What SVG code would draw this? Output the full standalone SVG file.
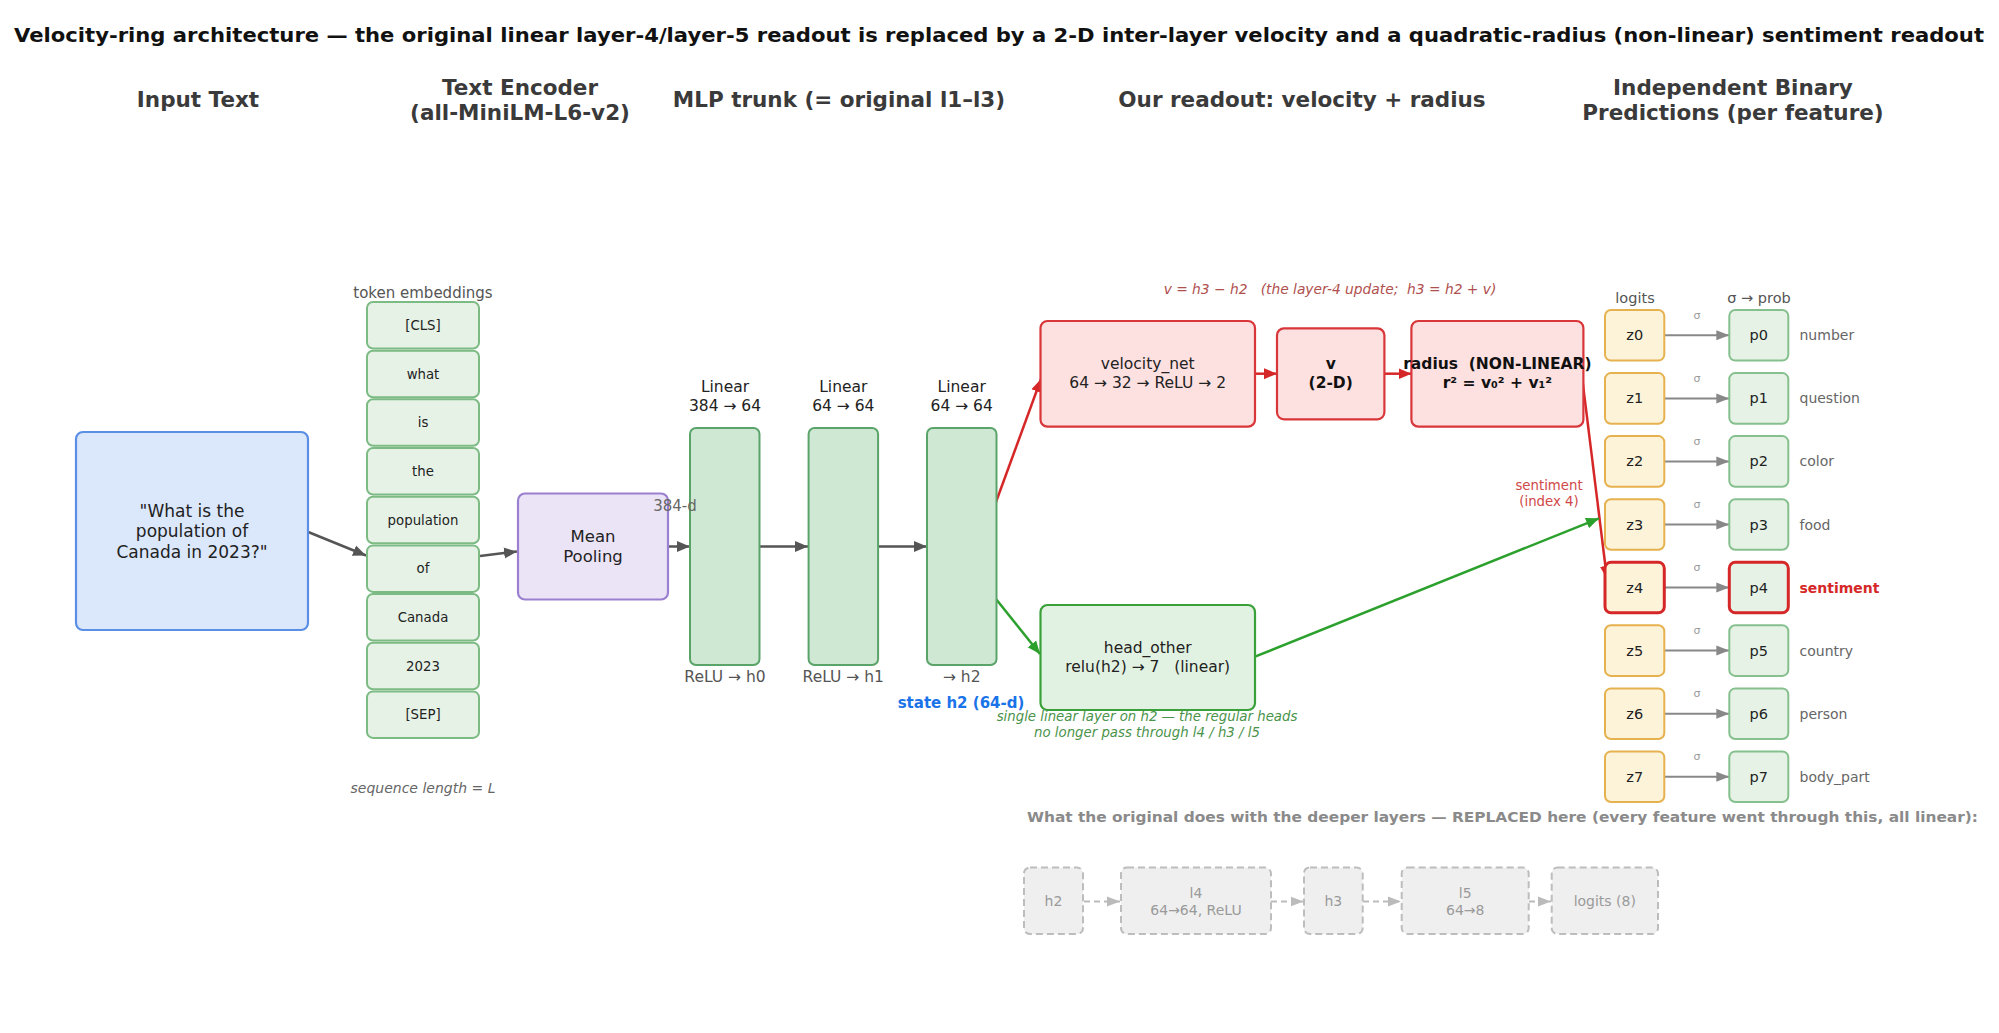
<svg xmlns="http://www.w3.org/2000/svg" width="1999" height="1033" viewBox="0 0 1999 1033">
<defs>
<style>
text{font-family:"DejaVu Sans","Liberation Sans",sans-serif;text-anchor:middle;dominant-baseline:central;fill:#222;white-space:pre}
.hdr{font-size:21.5px;font-weight:bold;fill:#3a3a3a}
.tok rect{fill:#e6f2e6;stroke:#7dbb85;stroke-width:2}
.tok text{font-size:13.3px}
.lin rect{fill:#cfe8d4;stroke:#5aa46a;stroke-width:2}
.lbl{font-size:15.5px;fill:#222}
.sub{font-size:15.5px;fill:#555}
.red rect{fill:#fde0e0;stroke:#d9363a;stroke-width:2.2}
.z rect{fill:#fdf3d9;stroke:#e6b14f;stroke-width:2}
.p rect{fill:#e6f2e6;stroke:#86c08e;stroke-width:2}
.z text,.p text{font-size:14.5px}
.sig{font-size:11px;fill:#999}
.feat{font-size:14px;fill:#666;text-anchor:start}
.dash rect{fill:#efefef;stroke:#bdbdbd;stroke-width:2;stroke-dasharray:7 4}
.dash text{font-size:14px;fill:#9a9a9a}
.hl rect{stroke:#d62728;stroke-width:3}
</style>
<marker id="ad" markerUnits="userSpaceOnUse" markerWidth="14" markerHeight="12" refX="13" refY="6" orient="auto"><path d="M0,0.5 L13,6 L0,11.5 z" fill="#555"/></marker>
<marker id="ag" markerUnits="userSpaceOnUse" markerWidth="14" markerHeight="12" refX="13" refY="6" orient="auto"><path d="M0,1 L13,6 L0,11 z" fill="#888"/></marker>
<marker id="ar" markerUnits="userSpaceOnUse" markerWidth="14" markerHeight="12" refX="13" refY="6" orient="auto"><path d="M0,0.5 L13,6 L0,11.5 z" fill="#d62728"/></marker>
<marker id="agr" markerUnits="userSpaceOnUse" markerWidth="14" markerHeight="12" refX="13" refY="6" orient="auto"><path d="M0,0.5 L13,6 L0,11.5 z" fill="#2ca02c"/></marker>
<marker id="al" markerUnits="userSpaceOnUse" markerWidth="14" markerHeight="12" refX="13" refY="6" orient="auto"><path d="M0,1 L13,6 L0,11 z" fill="#bbb"/></marker>
</defs>
<rect width="1999" height="1033" fill="#fff"/>

<!-- title and headers -->
<text x="999" y="35" font-size="19.5" font-weight="bold" textLength="1970" lengthAdjust="spacingAndGlyphs" style="fill:#111">Velocity-ring architecture — the original linear layer-4/layer-5 readout is replaced by a 2-D inter-layer velocity and a quadratic-radius (non-linear) sentiment readout</text>
<text class="hdr" x="198" y="99">Input Text</text>
<text class="hdr" x="520" y="87">Text Encoder</text>
<text class="hdr" x="520" y="112">(all-MiniLM-L6-v2)</text>
<text class="hdr" x="839" y="99">MLP trunk (= original l1–l3)</text>
<text class="hdr" x="1302" y="99">Our readout: velocity + radius</text>
<text class="hdr" x="1733" y="87">Independent Binary</text>
<text class="hdr" x="1733" y="112">Predictions (per feature)</text>

<!-- connectors -->
<g id="connectors" fill="none" stroke-width="2.5">
<line x1="307" y1="531.5" x2="366" y2="555.5" stroke="#555" marker-end="url(#ad)"/>
<line x1="480" y1="556" x2="517" y2="551.5" stroke="#555" marker-end="url(#ad)"/>
<line x1="668" y1="546.5" x2="690" y2="546.5" stroke="#555" marker-end="url(#ad)"/>
<line x1="760" y1="546.5" x2="808" y2="546.5" stroke="#555" marker-end="url(#ad)"/>
<line x1="878" y1="546.5" x2="927" y2="546.5" stroke="#555" marker-end="url(#ad)"/>
<line x1="996" y1="502" x2="1041" y2="379" stroke="#d62728" marker-end="url(#ar)"/>
<line x1="996" y1="599" x2="1040" y2="654" stroke="#2ca02c" marker-end="url(#agr)"/>
<line x1="1255" y1="373.7" x2="1277" y2="373.7" stroke="#d62728" marker-end="url(#ar)"/>
<line x1="1384.5" y1="373.7" x2="1411.5" y2="373.7" stroke="#d62728" marker-end="url(#ar)"/>
<line x1="1582" y1="376.7" x2="1607" y2="579" stroke="#d62728" marker-end="url(#ar)"/>
<line x1="1255" y1="656.7" x2="1599" y2="518.3" stroke="#2ca02c" marker-end="url(#agr)"/>
<g stroke="#888" stroke-width="2">
<line x1="1664.3" y1="335.3" x2="1729.3" y2="335.3" marker-end="url(#ag)"/>
<line x1="1664.3" y1="398.4" x2="1729.3" y2="398.4" marker-end="url(#ag)"/>
<line x1="1664.3" y1="461.4" x2="1729.3" y2="461.4" marker-end="url(#ag)"/>
<line x1="1664.3" y1="524.5" x2="1729.3" y2="524.5" marker-end="url(#ag)"/>
<line x1="1664.3" y1="587.5" x2="1729.3" y2="587.5" marker-end="url(#ag)"/>
<line x1="1664.3" y1="650.6" x2="1729.3" y2="650.6" marker-end="url(#ag)"/>
<line x1="1664.3" y1="713.7" x2="1729.3" y2="713.7" marker-end="url(#ag)"/>
<line x1="1664.3" y1="776.7" x2="1729.3" y2="776.7" marker-end="url(#ag)"/>
</g>
<g stroke="#bbb" stroke-width="2" stroke-dasharray="6 4">
<line x1="1084" y1="901.5" x2="1120" y2="901.5" marker-end="url(#al)"/>
<line x1="1271" y1="901.5" x2="1303.5" y2="901.5" marker-end="url(#al)"/>
<line x1="1363" y1="901.5" x2="1401" y2="901.5" marker-end="url(#al)"/>
<line x1="1529" y1="901.5" x2="1551" y2="901.5" marker-end="url(#al)"/>
</g>
</g>

<!-- input -->
<g id="input">
<rect x="76" y="432" width="232" height="198" rx="7" fill="#dbe8fb" stroke="#5b8fe6" stroke-width="2.2"/>
<text x="192" y="510.5" font-size="17">"What is the</text>
<text x="192" y="531" font-size="17">population of</text>
<text x="192" y="551.5" font-size="17">Canada in 2023?"</text>
</g>

<!-- tokens -->
<text x="423" y="292.5" font-size="15" style="fill:#555">token embeddings</text>
<g id="tok0" class="tok"><rect x="367" y="302" width="112" height="46.5" rx="6"/><text x="423" y="325.3">[CLS]</text></g>
<g id="tok1" class="tok"><rect x="367" y="350.7" width="112" height="46.5" rx="6"/><text x="423" y="374">what</text></g>
<g id="tok2" class="tok"><rect x="367" y="399.3" width="112" height="46.5" rx="6"/><text x="423" y="422.6">is</text></g>
<g id="tok3" class="tok"><rect x="367" y="448" width="112" height="46.5" rx="6"/><text x="423" y="471.3">the</text></g>
<g id="tok4" class="tok"><rect x="367" y="496.7" width="112" height="46.5" rx="6"/><text x="423" y="520">population</text></g>
<g id="tok5" class="tok"><rect x="367" y="545.4" width="112" height="46.5" rx="6"/><text x="423" y="568.6">of</text></g>
<g id="tok6" class="tok"><rect x="367" y="594" width="112" height="46.5" rx="6"/><text x="423" y="617.3">Canada</text></g>
<g id="tok7" class="tok"><rect x="367" y="642.7" width="112" height="46.5" rx="6"/><text x="423" y="666">2023</text></g>
<g id="tok8" class="tok"><rect x="367" y="691.4" width="112" height="46.5" rx="6"/><text x="423" y="714.6">[SEP]</text></g>
<text x="423" y="788" font-size="14" font-style="italic" style="fill:#666">sequence length = L</text>

<!-- mean pooling -->
<g id="pool">
<rect x="518" y="493.5" width="150" height="106" rx="7" fill="#ebe4f6" stroke="#9b7fd0" stroke-width="2.2"/>
<text x="593" y="536" font-size="16.5">Mean</text>
<text x="593" y="556.5" font-size="16.5">Pooling</text>
</g>

<!-- linear layers -->
<g id="l1" class="lin">
<rect x="690" y="428" width="69.5" height="237" rx="6"/>
<text class="lbl" x="725" y="387">Linear</text><text class="lbl" x="725" y="406">384 → 64</text>
<text class="sub" x="725" y="677">ReLU → h0</text>
</g>
<g id="l2" class="lin">
<rect x="808.6" y="428" width="69.5" height="237" rx="6"/>
<text class="lbl" x="843.3" y="387">Linear</text><text class="lbl" x="843.3" y="406">64 → 64</text>
<text class="sub" x="843.3" y="677">ReLU → h1</text>
</g>
<g id="l3" class="lin">
<rect x="927" y="428" width="69.5" height="237" rx="6"/>
<text class="lbl" x="961.7" y="387">Linear</text><text class="lbl" x="961.7" y="406">64 → 64</text>
<text class="sub" x="961.7" y="677">→ h2</text>
</g>
<text x="675" y="506" font-size="15" style="fill:#666">384-d</text>
<text x="961" y="703" font-size="15" font-weight="bold" style="fill:#1a73e8">state h2 (64-d)</text>

<!-- readout -->
<text x="1330" y="288.5" font-size="13.8" font-style="italic" style="fill:#b0504e">v = h3 − h2   (the layer-4 update;  h3 = h2 + v)</text>
<g id="velocity_net" class="red">
<rect x="1040.5" y="321" width="214.5" height="105.7" rx="7"/>
<text class="lbl" x="1147.7" y="364.3">velocity_net</text>
<text class="lbl" x="1147.7" y="383.3">64 → 32 → ReLU → 2</text>
</g>
<g id="v" class="red">
<rect x="1277" y="328.3" width="107.4" height="91" rx="7"/>
<text class="lbl" x="1330.7" y="364.3" font-weight="bold" style="fill:#111">v</text>
<text class="lbl" x="1330.7" y="383.3" font-weight="bold" style="fill:#111">(2-D)</text>
</g>
<g id="radius" class="red">
<rect x="1411.4" y="321" width="172" height="105.7" rx="7"/>
<text class="lbl" x="1497.4" y="364.3" font-weight="bold" style="fill:#111">radius  (NON-LINEAR)</text>
<text class="lbl" x="1497.4" y="383.3" font-weight="bold" style="fill:#111">r² = v₀² + v₁²</text>
</g>
<g id="head_other">
<rect x="1040.5" y="605" width="214.5" height="105" rx="7" fill="#e2f2e2" stroke="#3aa03a" stroke-width="2.2"/>
<text class="lbl" x="1147.7" y="647.7">head_other</text>
<text class="lbl" x="1147.7" y="666.7">relu(h2) → 7   (linear)</text>
</g>
<text x="1147" y="716" font-size="13.3" font-style="italic" style="fill:#4a934a">single linear layer on h2 — the regular heads</text>
<text x="1147" y="732.5" font-size="13.3" font-style="italic" style="fill:#4a934a">no longer pass through l4 / h3 / l5</text>
<text x="1549" y="485" font-size="13.3" style="fill:#d04848">sentiment</text>
<text x="1549" y="501.7" font-size="13.3" style="fill:#d04848">(index 4)</text>

<!-- logits / probs -->
<text x="1635" y="297.5" font-size="14.5" style="fill:#555">logits</text>
<text x="1759" y="297.5" font-size="14.5" style="fill:#555">σ → prob</text>

<g id="f0"><g class="z"><rect x="1605" y="310" width="59.3" height="50.6" rx="6"/><text x="1634.7" y="335.3">z0</text></g><text class="sig" x="1697" y="315">σ</text><g class="p"><rect x="1729.3" y="310" width="59" height="50.6" rx="6"/><text x="1758.8" y="335.3">p0</text></g><text class="feat" x="1799.5" y="335.3">number</text></g>
<g id="f1"><g class="z"><rect x="1605" y="373.1" width="59.3" height="50.6" rx="6"/><text x="1634.7" y="398.4">z1</text></g><text class="sig" x="1697" y="378.1">σ</text><g class="p"><rect x="1729.3" y="373.1" width="59" height="50.6" rx="6"/><text x="1758.8" y="398.4">p1</text></g><text class="feat" x="1799.5" y="398.4">question</text></g>
<g id="f2"><g class="z"><rect x="1605" y="436.1" width="59.3" height="50.6" rx="6"/><text x="1634.7" y="461.4">z2</text></g><text class="sig" x="1697" y="441.1">σ</text><g class="p"><rect x="1729.3" y="436.1" width="59" height="50.6" rx="6"/><text x="1758.8" y="461.4">p2</text></g><text class="feat" x="1799.5" y="461.4">color</text></g>
<g id="f3"><g class="z"><rect x="1605" y="499.2" width="59.3" height="50.6" rx="6"/><text x="1634.7" y="524.5">z3</text></g><text class="sig" x="1697" y="504.2">σ</text><g class="p"><rect x="1729.3" y="499.2" width="59" height="50.6" rx="6"/><text x="1758.8" y="524.5">p3</text></g><text class="feat" x="1799.5" y="524.5">food</text></g>
<g id="f4"><g class="z hl"><rect x="1605" y="562.2" width="59.3" height="50.6" rx="6"/><text x="1634.7" y="587.5">z4</text></g><text class="sig" x="1697" y="567.2">σ</text><g class="p hl"><rect x="1729.3" y="562.2" width="59" height="50.6" rx="6"/><text x="1758.8" y="587.5">p4</text></g><text class="feat" x="1799.5" y="587.5" font-weight="bold" style="fill:#d62728">sentiment</text></g>
<g id="f5"><g class="z"><rect x="1605" y="625.3" width="59.3" height="50.6" rx="6"/><text x="1634.7" y="650.6">z5</text></g><text class="sig" x="1697" y="630.3">σ</text><g class="p"><rect x="1729.3" y="625.3" width="59" height="50.6" rx="6"/><text x="1758.8" y="650.6">p5</text></g><text class="feat" x="1799.5" y="650.6">country</text></g>
<g id="f6"><g class="z"><rect x="1605" y="688.4" width="59.3" height="50.6" rx="6"/><text x="1634.7" y="713.7">z6</text></g><text class="sig" x="1697" y="693.4">σ</text><g class="p"><rect x="1729.3" y="688.4" width="59" height="50.6" rx="6"/><text x="1758.8" y="713.7">p6</text></g><text class="feat" x="1799.5" y="713.7">person</text></g>
<g id="f7"><g class="z"><rect x="1605" y="751.4" width="59.3" height="50.6" rx="6"/><text x="1634.7" y="776.7">z7</text></g><text class="sig" x="1697" y="756.4">σ</text><g class="p"><rect x="1729.3" y="751.4" width="59" height="50.6" rx="6"/><text x="1758.8" y="776.7">p7</text></g><text class="feat" x="1799.5" y="776.7">body_part</text></g>

<!-- original deeper layers -->
<text x="1027" y="817" font-size="14.5" font-weight="bold" textLength="951" lengthAdjust="spacingAndGlyphs" style="fill:#8a8a8a;text-anchor:start">What the original does with the deeper layers — REPLACED here (every feature went through this, all linear):</text>
<g id="o_h2" class="dash"><rect x="1024" y="867.5" width="59" height="66.5" rx="6"/><text x="1053.5" y="901">h2</text></g>
<g id="o_l4" class="dash"><rect x="1121" y="867.5" width="150" height="66.5" rx="6"/><text x="1196" y="892.5">l4</text><text x="1196" y="909.5">64→64, ReLU</text></g>
<g id="o_h3" class="dash"><rect x="1304" y="867.5" width="58.7" height="66.5" rx="6"/><text x="1333.3" y="901">h3</text></g>
<g id="o_l5" class="dash"><rect x="1401.7" y="867.5" width="127" height="66.5" rx="6"/><text x="1465.2" y="892.5">l5</text><text x="1465.2" y="909.5">64→8</text></g>
<g id="o_logits" class="dash"><rect x="1551.7" y="867.5" width="106.3" height="66.5" rx="6"/><text x="1604.8" y="901">logits (8)</text></g>
</svg>
